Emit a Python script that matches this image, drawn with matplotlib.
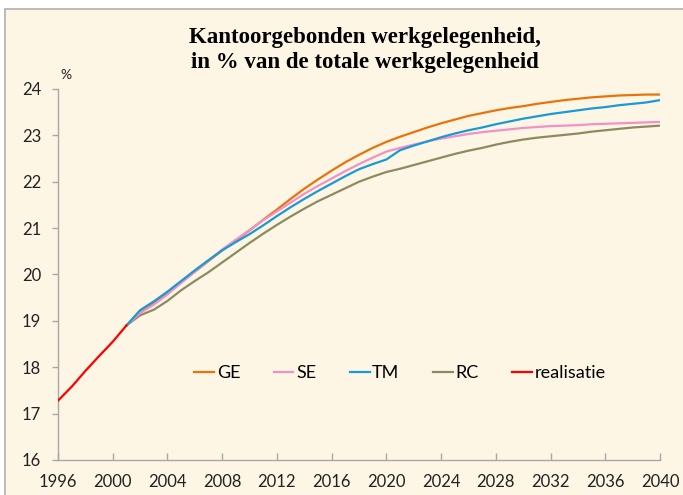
import numpy as np
import matplotlib
matplotlib.use("Agg")
import matplotlib.pyplot as plt
from matplotlib.patches import Rectangle

# realisatie 1996-2001
jaren_real = [1996, 1997, 1998, 1999, 2000, 2001]
realisatie = [17.28, 17.58, 17.92, 18.24, 18.55, 18.90]

# scenario's 2001-2040
jaren = list(range(2001, 2041))
ge = [18.90, 19.18, 19.38, 19.59, 19.83, 20.06, 20.29, 20.52, 20.74, 20.95,
      21.18, 21.40, 21.63, 21.85, 22.05, 22.24, 22.42, 22.58, 22.73, 22.86,
      22.97, 23.07, 23.17, 23.26, 23.34, 23.42, 23.48, 23.54, 23.59, 23.63,
      23.68, 23.72, 23.76, 23.79, 23.82, 23.84, 23.86, 23.87, 23.88, 23.88]
se = [18.90, 19.17, 19.35, 19.57, 19.82, 20.06, 20.30, 20.54, 20.75, 20.96,
      21.17, 21.36, 21.55, 21.74, 21.91, 22.07, 22.23, 22.38, 22.52, 22.65,
      22.73, 22.80, 22.87, 22.93, 22.98, 23.03, 23.07, 23.10, 23.13, 23.16,
      23.18, 23.20, 23.21, 23.22, 23.24, 23.25, 23.26, 23.27, 23.28, 23.29]
tm = [18.90, 19.23, 19.42, 19.63, 19.86, 20.09, 20.31, 20.52, 20.70, 20.87,
      21.06, 21.26, 21.45, 21.63, 21.80, 21.96, 22.12, 22.27, 22.38, 22.48,
      22.68, 22.78, 22.87, 22.96, 23.04, 23.11, 23.17, 23.24, 23.30, 23.36,
      23.41, 23.46, 23.50, 23.54, 23.58, 23.61, 23.65, 23.68, 23.71, 23.76]
rc = [18.90, 19.12, 19.24, 19.43, 19.66, 19.86, 20.05, 20.26, 20.47, 20.68,
      20.88, 21.07, 21.25, 21.42, 21.58, 21.72, 21.86, 22.00, 22.11, 22.21,
      22.28, 22.36, 22.44, 22.52, 22.60, 22.67, 22.73, 22.80, 22.86, 22.91,
      22.95, 22.98, 23.01, 23.04, 23.08, 23.11, 23.14, 23.17, 23.19, 23.21]

xticks = list(range(1996, 2041, 4))
yticks = list(range(16, 25))

bg = '#fdf6e5'
grijs = '#a8a8a8'

fig = plt.figure(figsize=(6.83, 4.95), dpi=100, facecolor='white')
fig.patches.append(Rectangle((5 / 683, -0.05), 1.1, 1 - 9 / 495 + 0.05,
                             transform=fig.transFigure, facecolor=bg,
                             edgecolor='#b0b0b0', linewidth=1.2, zorder=-5))

ax = fig.add_axes([58 / 683, 1 - 460 / 495, 602 / 683, 371 / 495])
ax.set_zorder(2)
ax.set_facecolor('none')

ax.plot(jaren, ge, color='#e8730c', lw=1.6, label='GE', zorder=3)
ax.plot(jaren, se, color='#f290c8', lw=1.6, label='SE', zorder=4)
ax.plot(jaren, tm, color='#189ad6', lw=1.6, label='TM', zorder=5)
ax.plot(jaren, rc, color='#8e8a60', lw=1.6, label='RC', zorder=3)
ax.plot(jaren_real, realisatie, color='#ff0000', lw=1.6, label='realisatie', zorder=6)

ax.set_xlim(1996, 2040)
ax.set_ylim(16, 24)
ax.set_xticks(xticks)
ax.set_yticks(yticks)
ax.set_xticklabels([str(x) for x in xticks])

for s in ['top', 'right']:
    ax.spines[s].set_visible(False)
for s in ['left', 'bottom']:
    ax.spines[s].set_color(grijs)
    ax.spines[s].set_linewidth(1.0)

ax.tick_params(axis='x', direction='in', length=5, color=grijs, width=1.0,
               labelsize=12, pad=10, labelcolor='#222222')
ax.tick_params(axis='y', direction='out', length=4, color=grijs, width=1.0,
               labelsize=12, pad=8, labelcolor='#222222')
for lab in ax.get_xticklabels() + ax.get_yticklabels():
    lab.set_fontfamily('Lato')

fig.text(60 / 683, 1 - 75 / 495, '%', fontsize=10, family='Lato',
         color='#222222', va='center', zorder=3)

leg = ax.legend(loc='center', bbox_to_anchor=(0.568, 0.234), ncol=5,
                frameon=False, handlelength=1.1, handletextpad=0.15,
                columnspacing=1.85, prop={'family': 'Lato', 'size': 13})

fig.text(365 / 683, 1 - 50 / 495,
         'Kantoorgebonden werkgelegenheid,\nin % van de totale werkgelegenheid',
         ha='center', va='center', family='Liberation Serif', weight='bold',
         fontsize=16.5, linespacing=1.3, color='black', zorder=3)

fig.savefig('out.png', dpi=100, facecolor=fig.get_facecolor())
